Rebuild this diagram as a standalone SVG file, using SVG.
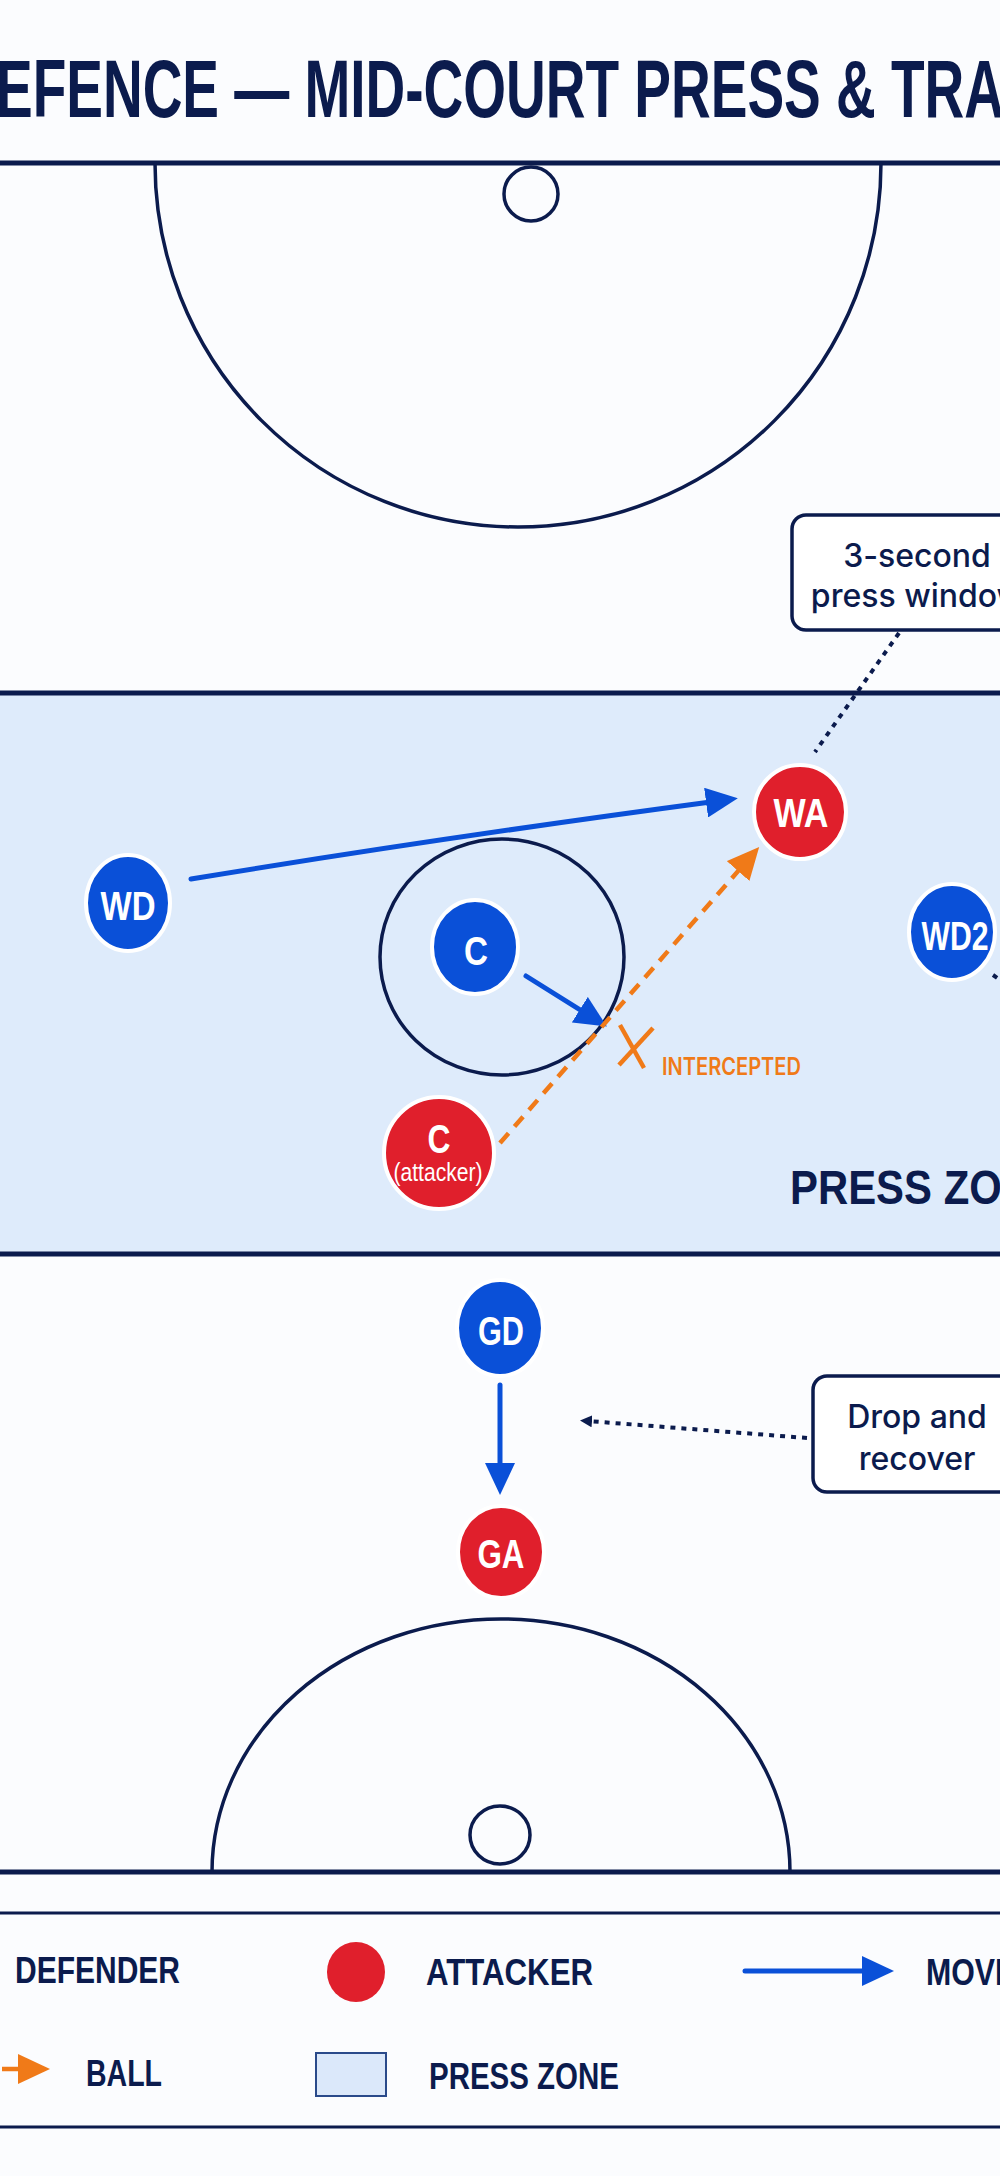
<svg xmlns="http://www.w3.org/2000/svg" width="1000" height="2176" viewBox="0 0 1000 2176">
<defs>
<style>
.court{stroke:#0b1b4d;fill:none;stroke-width:3.5}
.bold{font-family:"Liberation Sans",Arial,sans-serif;font-weight:700;fill:#0b1b4d}
.lbl{font-family:"Liberation Sans",Arial,sans-serif;font-weight:700;fill:#ffffff;font-size:41px;text-anchor:middle}
.note{font-family:Inter,"Liberation Sans",Arial,sans-serif;font-weight:500;font-size:32px;fill:#0b1b4d;text-anchor:middle}
.def{fill:#0a50d8;stroke:#ffffff;stroke-width:4}
.att{fill:#e01f2c;stroke:#ffffff;stroke-width:4}
.move{stroke:#0a50d8;stroke-width:5;fill:none;stroke-linecap:round}
.ball{stroke:#f07a18;stroke-width:4.5;fill:none;stroke-dasharray:13 9}
.dots{stroke:#0b1b4d;stroke-width:4;fill:none;stroke-dasharray:5 6}
.box{fill:#ffffff;stroke:#0b1b4d;stroke-width:3.5}
.leg{font-family:"Liberation Sans",Arial,sans-serif;font-weight:700;fill:#0b1b4d;font-size:37px}
</style>
<marker id="hBlue" markerUnits="userSpaceOnUse" viewBox="0 0 32 30" markerWidth="32" markerHeight="30" refX="12" refY="15" orient="auto">
<path d="M0,0 L32,15 L0,30 Z" fill="#0a50d8"/>
</marker>
<marker id="hOrange" markerUnits="userSpaceOnUse" viewBox="0 0 32 30" markerWidth="32" markerHeight="30" refX="12" refY="15" orient="auto">
<path d="M0,0 L32,15 L0,30 Z" fill="#f07a18"/>
</marker>
<marker id="hNavy" markerUnits="userSpaceOnUse" viewBox="0 0 12 12" markerWidth="12" markerHeight="12" refX="4" refY="6" orient="auto">
<path d="M0,0 L12,6 L0,12 Z" fill="#0b1b4d"/>
</marker>
</defs>

<rect x="0" y="0" width="1000" height="2176" fill="#fbfcfe"/>

<g id="title">
<text class="bold" x="-4" y="117" font-size="82" textLength="1008" lengthAdjust="spacingAndGlyphs">EFENCE — MID-COURT PRESS &amp; TRA</text>
</g>

<g id="press-zone">
<rect x="-5" y="693" width="1010" height="561" fill="#deebfb"/>
<line x1="0" y1="693" x2="1000" y2="693" stroke="#0b1b4d" stroke-width="5"/>
<line x1="0" y1="1254" x2="1000" y2="1254" stroke="#0b1b4d" stroke-width="5"/>
<text class="bold" x="790" y="1204" font-size="49" textLength="270" lengthAdjust="spacingAndGlyphs">PRESS ZONE</text>
</g>

<g id="court">
<line x1="0" y1="163" x2="1000" y2="163" stroke="#0b1b4d" stroke-width="5"/>
<path class="court" d="M155,163 A363,364 0 0 0 881,163"/>
<circle class="court" cx="531" cy="194" r="27"/>
<line x1="0" y1="1872" x2="1000" y2="1872" stroke="#0b1b4d" stroke-width="5"/>
<path class="court" d="M212,1872 A289,253 0 0 1 790,1872"/>
<ellipse class="court" cx="500" cy="1835" rx="30" ry="29"/>
<ellipse class="court" cx="502" cy="957" rx="122" ry="118"/>
</g>

<g id="connectors">
<path class="move" d="M191,879 Q440,838 718,801" marker-end="url(#hBlue)"/>
<path class="move" d="M526,976 L590,1016" marker-end="url(#hBlue)"/>
<path class="move" d="M500,1385 L500,1475" marker-end="url(#hBlue)"/>
<path class="ball" d="M500,1143 L746,862" marker-end="url(#hOrange)"/>
<path class="dots" d="M899,633 L815,752"/>
<path class="dots" d="M807,1438 L588,1421" marker-end="url(#hNavy)"/>
<path class="dots" d="M993,975 L1006,984"/>
</g>

<g id="intercept">
<line x1="620" y1="1025" x2="644" y2="1068" stroke="#f07a18" stroke-width="4.5"/>
<line x1="653" y1="1028" x2="619" y2="1065" stroke="#f07a18" stroke-width="4.5"/>
<text x="662" y="1075" font-family="Inter, Liberation Sans, Arial, sans-serif" font-weight="600" font-size="24" fill="#f07a18" textLength="139" lengthAdjust="spacingAndGlyphs">INTERCEPTED</text>
</g>

<g id="note-press">
<rect class="box" x="792" y="515" width="240" height="115" rx="14"/>
<text class="note" x="917" y="567">3-second</text>
<text class="note" x="917" y="607">press window</text>
</g>

<g id="note-drop">
<rect class="box" x="813" y="1376" width="230" height="116" rx="14"/>
<text class="note" x="917" y="1428">Drop and</text>
<text class="note" x="917" y="1470">recover</text>
</g>

<g id="node-WD">
<ellipse class="def" cx="128" cy="903" rx="42" ry="48"/>
<text class="lbl" x="128" y="920" textLength="55" lengthAdjust="spacingAndGlyphs">WD</text>
</g>
<g id="node-WA">
<ellipse class="att" cx="800" cy="812" rx="46" ry="47"/>
<text class="lbl" x="801" y="827" textLength="55" lengthAdjust="spacingAndGlyphs">WA</text>
</g>
<g id="node-C">
<ellipse class="def" cx="475" cy="947" rx="43" ry="47"/>
<text class="lbl" x="476" y="965" textLength="24" lengthAdjust="spacingAndGlyphs">C</text>
</g>
<g id="node-WD2">
<ellipse class="def" cx="952" cy="932" rx="43" ry="48"/>
<text class="lbl" x="955" y="950" textLength="67" lengthAdjust="spacingAndGlyphs">WD2</text>
</g>
<g id="node-C-attacker">
<ellipse class="att" cx="439" cy="1153" rx="55" ry="56"/>
<text class="lbl" x="439" y="1153" textLength="23" lengthAdjust="spacingAndGlyphs">C</text>
<text x="438" y="1181" font-family="Liberation Sans, Arial, sans-serif" font-size="25" fill="#ffffff" text-anchor="middle" textLength="89" lengthAdjust="spacingAndGlyphs">(attacker)</text>
</g>
<g id="node-GD">
<ellipse class="def" cx="500" cy="1328" rx="43" ry="48"/>
<text class="lbl" x="501" y="1345" textLength="46" lengthAdjust="spacingAndGlyphs">GD</text>
</g>
<g id="node-GA">
<ellipse class="att" cx="501" cy="1552" rx="43" ry="46"/>
<text class="lbl" x="501" y="1568" textLength="47" lengthAdjust="spacingAndGlyphs">GA</text>
</g>

<g id="legend">
<line x1="0" y1="1913" x2="1000" y2="1913" stroke="#0b1b4d" stroke-width="3"/>
<line x1="0" y1="2127" x2="1000" y2="2127" stroke="#0b1b4d" stroke-width="3"/>
<text class="leg" x="15" y="1983" textLength="165" lengthAdjust="spacingAndGlyphs">DEFENDER</text>
<ellipse cx="356" cy="1972" rx="29" ry="30" fill="#e01f2c"/>
<text class="leg" x="426" y="1985" textLength="167" lengthAdjust="spacingAndGlyphs">ATTACKER</text>
<path class="move" d="M745,1971 L874,1971" stroke-linecap="butt" marker-end="url(#hBlue)"/>
<text class="leg" x="926" y="1985" textLength="175" lengthAdjust="spacingAndGlyphs">MOVEMENT</text>
<path d="M2,2069 L30,2069" stroke="#f07a18" stroke-width="4.5" stroke-dasharray="16 12" fill="none" marker-end="url(#hOrange)"/>
<text class="leg" x="86" y="2086" textLength="76" lengthAdjust="spacingAndGlyphs">BALL</text>
<rect x="316" y="2053" width="70" height="43" fill="#dbe8fa" stroke="#2a4a8a" stroke-width="2"/>
<text class="leg" x="429" y="2089" textLength="190" lengthAdjust="spacingAndGlyphs">PRESS ZONE</text>
</g>
</svg>
